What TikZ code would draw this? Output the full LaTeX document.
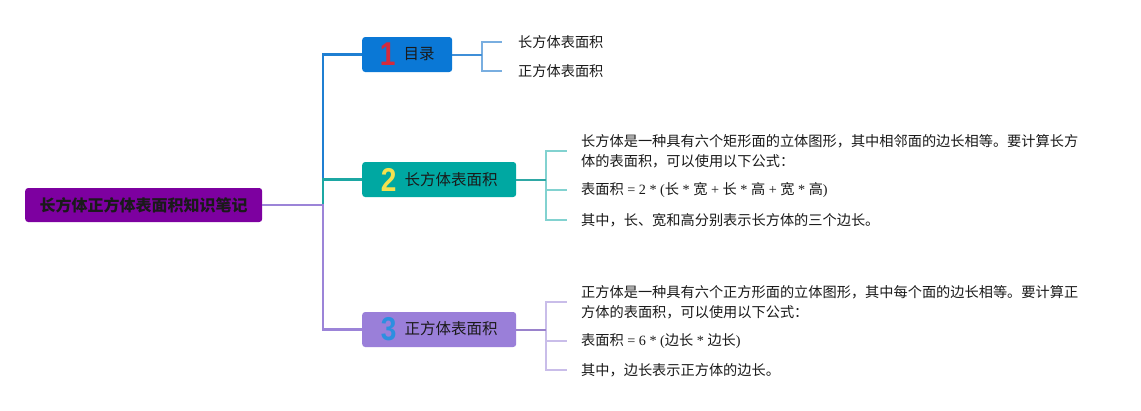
\documentclass[tikz,border=0pt]{standalone}
\usepackage{fontspec}
\setmainfont{Liberation Serif}
\newfontfamily\cjk{Noto Sans CJK SC}
\newfontfamily\numf{Liberation Sans}
\definecolor{rootc}{HTML}{7D00A0}
\definecolor{c1}{HTML}{0A78D6}
\definecolor{c2}{HTML}{00A8A2}
\definecolor{c3}{HTML}{9A7FD9}
\definecolor{d1}{HTML}{D42A3C}
\definecolor{d2}{HTML}{F4E14F}
\definecolor{d3}{HTML}{2C8FE0}
\definecolor{lblue}{HTML}{1F7FD2}
\definecolor{lteal}{HTML}{1CA7A3}
\definecolor{lpurple}{HTML}{9C84D8}
\definecolor{cb1}{HTML}{79AEE0}
\definecolor{cb2}{HTML}{82D2D0}
\definecolor{cb3}{HTML}{C9BDE9}
\definecolor{hb1}{HTML}{3F8FD8}
\definecolor{hb2}{HTML}{2FA8A5}
\definecolor{hb3}{HTML}{9A82CC}
\definecolor{txt}{HTML}{1A1A1A}
\newcommand\bignum[2]{\raisebox{-6pt}{\scalebox{0.85}[1]{\numf\bfseries\fontsize{33}{33}\selectfont\color{#1}#2}}}
\newcommand\lt[1]{{\rmfamily #1}}
\begin{document}
\begin{tikzpicture}[x=1pt,y=-1pt,
  mainbox/.style={rounded corners=3pt, minimum height=35pt, inner sep=0pt, anchor=west, text=txt,
    font=\cjk\fontsize{15.5}{18}\selectfont},
  leaf/.style={anchor=west, inner sep=0pt, align=left, text=txt,
    font=\cjk\fontsize{14.2}{20}\selectfont},
  trunk/.style={line width=2.8pt},
  hbar/.style={line width=2pt},
  twig/.style={line width=1.5pt}]
\useasboundingbox (0,0) rectangle (1141,410);
\fill[white] (0,0) rectangle (1141,410);
% main nodes
\node[mainbox, fill=rootc, minimum width=237pt, minimum height=34pt,
      font=\cjk\bfseries\fontsize{16}{18}\selectfont] (root) at (25,205) {长方体正方体表面积知识笔记};
\node[mainbox, fill=c1, minimum width=90pt] (n1) at (362,54.5) {\bignum{d1}{1}\hspace{8pt}目录};
\node[mainbox, fill=c2, minimum width=154pt] (n2) at (362,179.5) {\bignum{d2}{2}\hspace{8pt}长方体表面积};
\node[mainbox, fill=c3, minimum width=154pt] (n3) at (362,329.5) {\bignum{d3}{3}\hspace{8pt}正方体表面积};
% trunk connectors
\coordinate (j) at (323,205);
\draw[trunk, lblue] (j) |- (n1.west);
\draw[trunk, lteal] (j) |- (n2.west);
\draw[trunk, lpurple] (root.east) -- (j) |- (n3.west);
% leaves
\node[leaf] (l11) at (518,42) {长方体表面积};
\node[leaf] (l12) at (518,71) {正方体表面积};
\node[leaf] (l21) at (581,151) {长方体是一种具有六个矩形面的立体图形，其中相邻面的边长相等。要计算长方\\体的表面积，可以使用以下公式：};
\node[leaf] (l22) at (581,190) {表面积\lt{ = 2 * (}长\lt{ * }宽\lt{ + }长\lt{ * }高\lt{ + }宽\lt{ * }高\lt{)}};
\node[leaf] (l23) at (581,220) {其中，长、宽和高分别表示长方体的三个边长。};
\node[leaf] (l31) at (581,302) {正方体是一种具有六个正方形面的立体图形，其中每个面的边长相等。要计算正\\方体的表面积，可以使用以下公式：};
\node[leaf] (l32) at (581,341) {表面积\lt{ = 6 * (}边长\lt{ * }边长\lt{)}};
\node[leaf] (l33) at (581,370) {其中，边长表示正方体的边长。};
% leaf connectors
\coordinate (b1) at (482,54.5);
\draw[twig, cb1] (b1) |- ([xshift=-16pt]l11.west);
\draw[twig, cb1] (b1) |- ([xshift=-16pt]l12.west);
\draw[hbar, hb1] (n1.east) -- (b1);
\coordinate (b2) at (546,179.5);
\draw[twig, cb2] (b2) |- ([xshift=-14pt]l21.west);
\draw[twig, cb2] (b2) |- ([xshift=-14pt]l22.west);
\draw[twig, cb2] (b2) |- ([xshift=-14pt]l23.west);
\draw[hbar, hb2] (n2.east) -- (b2);
\coordinate (b3) at (546,329.5);
\draw[twig, cb3] (b3) |- ([xshift=-14pt]l31.west);
\draw[twig, cb3] (b3) |- ([xshift=-14pt]l32.west);
\draw[twig, cb3] (b3) |- ([xshift=-14pt]l33.west);
\draw[hbar, hb3] (n3.east) -- (b3);
\end{tikzpicture}
\end{document}
